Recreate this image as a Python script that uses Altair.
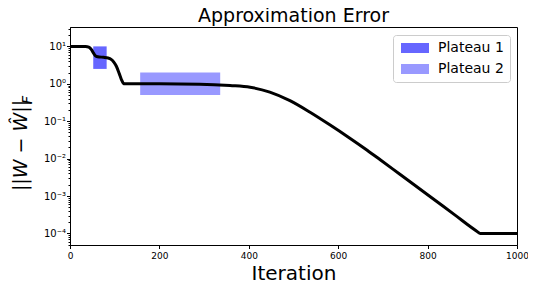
import altair as alt
import pandas as pd

# curve: iteration vs approximation error
iters = [0, 35, 42, 48, 53, 57, 62, 75, 85, 92, 98, 104, 110, 115, 119, 123,
         200, 290, 358, 403, 447, 492, 537, 582, 622, 664, 694, 738,
         800, 860, 910, 918, 1000]
errors = [10, 10, 9.6, 8.2, 6.5, 5.6, 5.3, 5.1, 4.9, 4.5, 3.8, 2.9, 1.9, 1.3, 1.05, 1.0,
          1.0, 0.98, 0.90, 0.81, 0.60, 0.355, 0.174, 0.079, 0.038, 0.0170, 0.0093, 0.0038,
          0.00108, 0.000318, 0.000115, 0.0001, 0.0001]

plateau_names = ["Plateau 1", "Plateau 2"]
plateau_x0 = [52, 157]
plateau_x1 = [82, 336]
plateau_y0 = [2.5, 0.5]
plateau_y1 = [10, 2]
plateau_colors = ["#6666ff", "#9999ff"]

x_ticks = [0, 200, 400, 600, 800, 1000]
y_major = [1e-4, 1e-3, 1e-2, 1e-1, 1, 10]
y_domain = [4.9e-5, 33]
y_minor = [m * 10.0 ** e for e in range(-5, 2) for m in range(2, 10)
           if y_domain[0] <= m * 10.0 ** e <= y_domain[1]]

df_line = pd.DataFrame({"iter": iters, "err": errors})
df_rect = pd.DataFrame({"name": plateau_names, "x0": plateau_x0, "x1": plateau_x1,
                        "y0": plateau_y0, "y1": plateau_y1})

FONT = "DejaVu Sans"
xscale = alt.Scale(domain=[0, 1000], nice=False, zero=False)
yscale = alt.Scale(type="log", domain=y_domain, nice=False)

label_expr = ("'10' + replace(replace(replace(replace(replace(replace(replace(''+round(log(datum.value)/LN10),"
              "'-','⁻'),'0','⁰'),'1','¹'),'2','²'),'3','³'),'4','⁴'),'5','⁵')")

xaxis = alt.Axis(values=x_ticks, grid=False, tickSize=3.5, tickColor="black", domainColor="black",
                 labelColor="black", labelFontSize=9, labelFont=FONT, labelPadding=3, format="d",
                 title="Iteration", titleFont=FONT, titleFontSize=20, titleFontWeight="normal",
                 titleColor="black", titlePadding=3, labelFlush=False)
yaxis = alt.Axis(values=y_major, grid=False, tickSize=3.5, tickColor="black", domainColor="black",
                 labelColor="black", labelFontSize=10, labelFont=FONT, labelPadding=1,
                 labelExpr=label_expr, orient="left",
                 title="||W − Ŵ||", titleFont=FONT, titleFontSize=19, titleFontWeight="normal",
                 titleFontStyle="italic", titleColor="black", titleAngle=270,
                 titleX=-44, titleY=118, titleBaseline="alphabetic", titleAlign="center")
yaxis_minor = alt.Axis(values=y_minor, grid=False, tickSize=2, tickColor="black", domain=False,
                       labels=False, title=None, orient="left")

rects = alt.Chart(df_rect).mark_rect().encode(
    x=alt.X("x0:Q", scale=xscale, axis=xaxis),
    x2="x1:Q",
    y=alt.Y("y0:Q", scale=yscale, axis=yaxis),
    y2="y1:Q",
    fill=alt.Fill("name:N", scale=alt.Scale(domain=plateau_names, range=plateau_colors),
                  legend=alt.Legend(title=None, orient="none", legendX=323, legendY=8,
                                    symbolType="M-2.8,-1H2.8V1H-2.8Z", symbolSize=100,
                                    symbolStrokeWidth=0, symbolOffset=9, labelOffset=16,
                                    labelFontSize=14, labelFont=FONT, labelColor="black",
                                    strokeColor="#cccccc", fillColor="white", cornerRadius=3,
                                    padding=6, rowPadding=7)),
)

line = alt.Chart(df_line).mark_line(color="black", strokeWidth=3, interpolate="monotone").encode(
    x=alt.X("iter:Q", scale=xscale),
    y=alt.Y("err:Q", scale=yscale, axis=None),
)

minor = alt.Chart(df_line).mark_line(opacity=0).encode(
    x=alt.X("iter:Q", scale=xscale),
    y=alt.Y("err:Q", scale=yscale, axis=yaxis_minor),
)

sub = alt.Chart(pd.DataFrame({"t": ["F"]})).mark_text(
    angle=270, fontSize=14, font=FONT, fontStyle="italic", color="black", align="left",
    baseline="alphabetic"
).encode(text="t:N", x=alt.value(-38), y=alt.value(77))

chart = alt.layer(rects, line, minor, sub).resolve_axis(y="independent").properties(
    width=447, height=218,
    title=alt.Title("Approximation Error", font=FONT, fontSize=19, fontWeight="normal",
                    color="black", offset=1.5),
    padding={"left": 62, "top": 19, "right": 11, "bottom": 39},
    autosize="none",
).configure_view(stroke="black", strokeWidth=1)

chart.save("out.html", embed_options={"renderer": "svg", "actions": False})
